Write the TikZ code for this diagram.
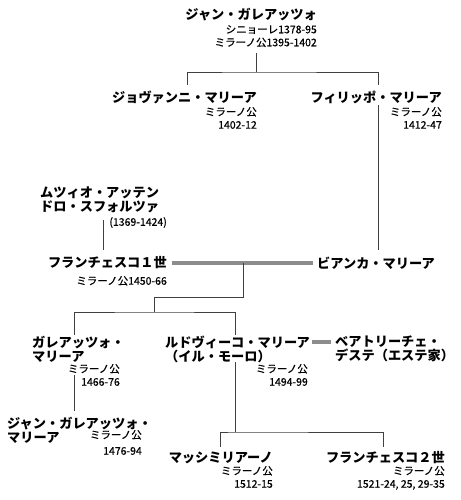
\documentclass[tikz,border=0pt]{standalone}
\usepackage{fontspec}
\setmainfont{Noto Sans CJK JP}
\newfontfamily\officefont[FakeBold=0.6]{Noto Sans CJK JP}
\usepackage{tikz}
\usetikzlibrary{arrows.meta}

\begin{document}
\begin{tikzpicture}[x=1pt,y=1pt]
\useasboundingbox (0,0) rectangle (460,-500);
\begin{scope}[every node/.style={inner sep=0pt,align=left,
              font=\bfseries\fontsize{13.2}{13.5}\selectfont}]
    \node[anchor=east] (GG) at (317,-15) {ジャン・ガレアッツォ};
    \node[anchor=east] (Giov) at (257,-97) {ジョヴァンニ・マリーア};
    \node[anchor=east] (Fil) at (442,-97) {フィリッポ・マリーア};
    \node[anchor=north west] (Muzio) at (40,-187) {ムツィオ・アッテン\\ドロ・スフォルツァ};
    \node[anchor=east] (Fr1) at (167,-263) {フランチェスコ１世};
    \node[anchor=west] (Bianca) at (317,-263) {ビアンカ・マリーア};
    \node[anchor=north west] (Gal) at (32,-336) {ガレアッツォ・\\マリーア};
    \node[anchor=north west] (Lud) at (165,-336) {ルドヴィーコ・マリーア\\（イル・モーロ）};
    \node[anchor=north west] (Bea) at (335,-336) {ベアトリーチェ・\\デステ（エステ家）};
    \node[anchor=north west] (GGM) at (7,-417) {ジャン・ガレアッツォ・\\マリーア};
    \node[anchor=east] (Mas) at (273,-458) {マッシミリアーノ};
    \node[anchor=east] (Fr2) at (445,-458) {フランチェスコ２世};
\end{scope}
\begin{scope}[every node/.style={inner sep=0pt,align=right,anchor=north east,
              font=\officefont\fontsize{10.5}{13}\selectfont}]
    \node (GGt) at (317,-25) {シニョーレ1378-95\\ミラーノ公1395-1402};
    \node (Giovt) at (257,-107) {ミラーノ公\\1402-12};
    \node (Filt) at (442,-107) {ミラーノ公\\1412-47};
    \node (Muziot) at (167,-217) {(1369-1424)};
    \node (Fr1t) at (167,-276) {ミラーノ公1450-66};
    \node (Galt) at (120,-364) {ミラーノ公\\1466-76};
    \node (Ludt) at (308,-364) {ミラーノ公\\1494-99};
    \node (GGMt) at (142,-430) {ミラーノ公\\[3pt]1476-94};
    \node (Mast) at (273,-466) {ミラーノ公\\1512-15};
    \node (Fr2t) at (445,-466) {ミラーノ公\\1521-24, 25, 29-35};
\end{scope}
\begin{scope}[kin_edge/.style={draw=black!75,line width=0.9pt},
              wed_edge/.style={draw=black!45,line width=3.2pt}]
    \coordinate (GGout) at (256,-53);
    \coordinate (bar1) at (256,-72);
    \coordinate (GiovIn) at (187,-85);
    \coordinate (FilIn) at (378,-85);
    \coordinate (FilOut) at (378,-105);
    \coordinate (BiancaIn) at (378,-250);
    \coordinate (MuzioOut) at (103,-220);
    \coordinate (Fr1In) at (103,-250);
    \coordinate (w1) at (243,-263);
    \coordinate (bend1) at (154,-297);
    \coordinate (bar2) at (154,-312);
    \coordinate (GalIn) at (74,-335);
    \coordinate (LudIn) at (235,-335);
    \coordinate (w2a) at (312,-342);
    \coordinate (w2b) at (331,-342);
    \coordinate (GalOut) at (74,-375);
    \coordinate (GGMIn) at (74,-411);
    \coordinate (LudOut) at (235,-362);
    \coordinate (bar3) at (235,-432);
    \coordinate (MasIn) at (220,-447);
    \coordinate (Fr2In) at (383,-447);
    % father to sons
    \path (GGout) edge [kin_edge] (bar1);
    \draw [kin_edge] (GiovIn) |- (bar1) -| (FilIn);
    \path (FilOut) edge [kin_edge] (BiancaIn);
    \path (MuzioOut) edge [kin_edge] (Fr1In);
    % marriages
    \path (Fr1) edge [wed_edge,shorten <=5pt,shorten >=4pt] (Bianca);
    \path (w2a) edge [wed_edge] (w2b);
    % next generations
    \draw [kin_edge] (w1) |- (bend1) -- (bar2);
    \draw [kin_edge] (GalIn) |- (bar2) -| (LudIn);
    \path (GalOut) edge [kin_edge] (GGMIn);
    \path (LudOut) edge [kin_edge] (bar3);
    \draw [kin_edge] (MasIn) |- (bar3) -| (Fr2In);
\end{scope}
\end{tikzpicture}
\end{document}
